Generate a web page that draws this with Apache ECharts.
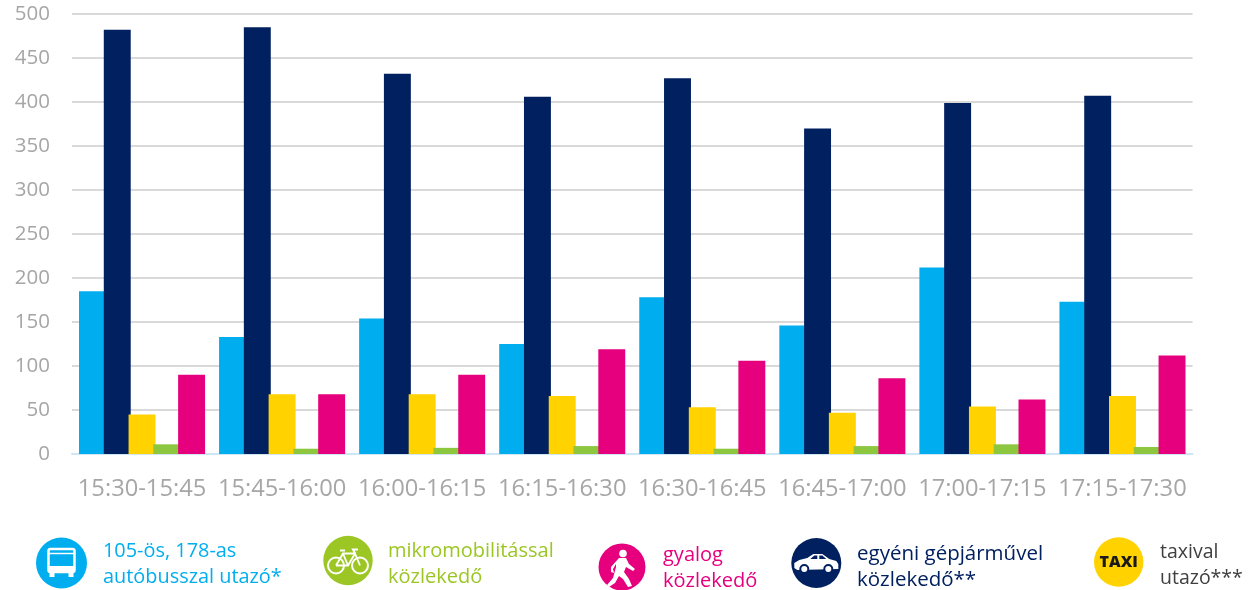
<!DOCTYPE html>
<html><head><meta charset="utf-8">
<script src="https://cdn.jsdelivr.net/npm/echarts@6/dist/echarts.min.js"></script>
<style>html,body{margin:0;padding:0;background:#fff}#c{width:1253px;height:590px}</style>
</head><body><div id="c"></div>
<script>
const categories = ['15:30-15:45','15:45-16:00','16:00-16:15','16:15-16:30','16:30-16:45','16:45-17:00','17:00-17:15','17:15-17:30'];
const busValues   = [185,133,154,125,178,146,212,173];
const carValues   = [482,485,432,406,427,370,399,407];
const taxiValues  = [45,68,68,66,53,47,54,66];
const microValues = [11,6,7,9,6,9,11,8];
const walkValues  = [90,68,90,119,106,86,62,112];
const colors = {bus:'#00AEEF',car:'#002060',taxi:'#FFD200',micro:'#8DC63F',walk:'#E6007E'};
const FONT = '"Open Sans", sans-serif';
const seriesDefs = [['bus',busValues,colors.bus],['car',carValues,colors.car],['taxi',taxiValues,colors.taxi],['micro',microValues,colors.micro],['walk',walkValues,colors.walk]];

function label(x,y,lines,color,size){
  return {type:'text',left:x,top:y,style:{text:lines.join('\n'),fill:color,font:'400 '+(size||20)+'px '+FONT,lineHeight:26}};
}
function disc(cx,cy,r,fill,children){
  return {type:'group',x:cx,y:cy,children:[{type:'circle',shape:{cx:0,cy:0,r:r},style:{fill:fill}}].concat(children||[])};
}
const W='#fff';
const busIcon=[
 {type:'rect',shape:{x:-13,y:-14,width:26,height:23,r:2},style:{fill:'none',stroke:W,lineWidth:2.5}},
 {type:'line',shape:{x1:-13,y1:-9.5,x2:13,y2:-9.5},style:{stroke:W,lineWidth:1.5}},
 {type:'rect',shape:{x:-13,y:3,width:26,height:6,r:1},style:{fill:W}},
 {type:'rect',shape:{x:-12,y:9,width:5,height:5},style:{fill:W}},
 {type:'rect',shape:{x:7,y:9,width:5,height:5},style:{fill:W}}];
const bikeIcon=[
 {type:'circle',shape:{cx:-12,cy:5,r:8},style:{fill:'none',stroke:W,lineWidth:2}},
 {type:'circle',shape:{cx:12,cy:5,r:8},style:{fill:'none',stroke:W,lineWidth:2}},
 {type:'polyline',shape:{points:[[-12,5],[-5,-7],[7,-7],[12,5]]},style:{fill:'none',stroke:W,lineWidth:1.8}},
 {type:'polyline',shape:{points:[[-12,5],[0,5],[7,-7]]},style:{fill:'none',stroke:W,lineWidth:1.8}},
 {type:'line',shape:{x1:-5,y1:-7,x2:0,y2:5},style:{stroke:W,lineWidth:1.8}},
 {type:'line',shape:{x1:-8,y1:-10,x2:-3,y2:-10},style:{stroke:W,lineWidth:2}},
 {type:'polyline',shape:{points:[[7,-7],[5,-11],[10,-11]]},style:{fill:'none',stroke:W,lineWidth:2}}];
const walkIcon=[
 {type:'circle',shape:{cx:1,cy:-13.5,r:3.8},style:{fill:W}},
 {type:'polygon',shape:{points:[[-3,-9],[4,-9],[7,-3],[13,2],[11,4],[4,0],[2,5],[7,12],[10,19],[6,20],[1,12],[-3,9],[-7,16],[-13,20],[-15,18],[-9,11],[-6,0],[-6,-3],[-9,2],[-8,6],[-11,5],[-11,0]]},style:{fill:W}}];
const carIcon=[
 {type:'polygon',shape:{points:[[-22,5],[-22,0],[-17,-3],[-9,-5],[-3,-9],[6,-9],[13,-4],[20,-2],[22,1],[22,6],[-19,7]]},style:{fill:W}},
 {type:'polygon',shape:{points:[[-6,-4],[-2,-7.5],[1,-7.5],[1,-4]]},style:{fill:'#002060'}},
 {type:'polygon',shape:{points:[[3,-4],[3,-7.5],[6,-7.5],[10,-4]]},style:{fill:'#002060'}},
 {type:'circle',shape:{cx:-12,cy:6,r:4},style:{fill:W,stroke:'#002060',lineWidth:2}},
 {type:'circle',shape:{cx:12,cy:6,r:4},style:{fill:W,stroke:'#002060',lineWidth:2}}];
const taxiIcon=[
 {type:'text',style:{text:'TAXI',x:0,y:0,align:'center',verticalAlign:'middle',fill:'#1a1a1a',font:'800 16px "Open Sans", sans-serif'}}];

const chart = echarts.init(document.getElementById('c'),null,{renderer:'canvas'});
chart.setOption({
  animation:false,
  backgroundColor:'#fff',
  grid:{left:72,right:60.5,top:14,bottom:136,containLabel:false},
  xAxis:{type:'category',data:categories,
    axisLine:{lineStyle:{color:'#CFE6F4',width:2}},axisTick:{show:false},
    axisLabel:{color:'#A6A6A6',fontFamily:FONT,fontSize:23.7,margin:23,interval:0}},
  yAxis:{type:'value',min:0,max:500,interval:50,
    axisLine:{show:false},axisTick:{show:false},
    splitLine:{lineStyle:{color:'#D9D9D9',width:2}},
    axisLabel:{color:'#A6A6A6',fontFamily:FONT,fontSize:20.5,margin:22}},
  series:seriesDefs.map(([n,d,c])=>({name:n,type:'bar',data:d,barGap:'-8%',barCategoryGap:'10%',
    itemStyle:{color:c},emphasis:{disabled:true}})),
  graphic:[
    disc(61.5,563,25.5,colors.bus,busIcon),
    label(103,538,['105-ös, 178-as','autóbusszal utazó*'],colors.bus,19.9),
    disc(348,560.5,24.7,'#9BC624',bikeIcon),
    label(388,538,['mikromobilitással','közlekedő'],'#9BC624',20),
    disc(622,567,23.5,colors.walk,walkIcon),
    label(663,542,['gyalog','közlekedő'],colors.walk,20),
    disc(816.3,563,25,colors.car,carIcon),
    label(857,541,['egyéni gépjárművel','közlekedő**'],colors.car,20.5),
    disc(1118.7,562,24.7,colors.taxi,taxiIcon),
    label(1160,539,['taxival','utazó***'],'#404040',19.5)
  ]
});
</script></body></html>
